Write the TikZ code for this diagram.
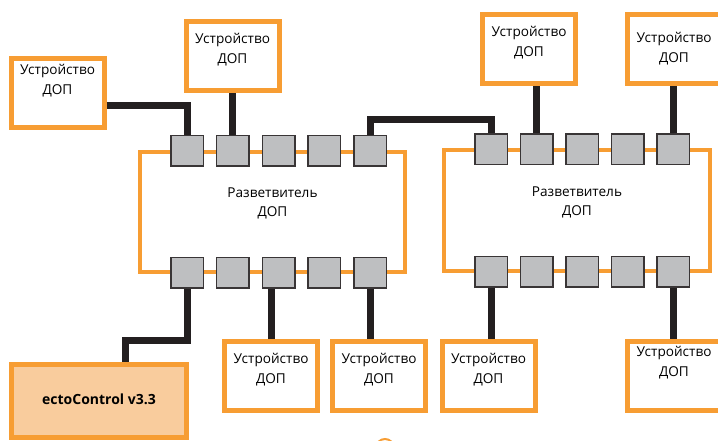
\documentclass[tikz,border=0pt]{standalone}
\usepackage{fontspec}
\setmainfont{Open Sans}
\usetikzlibrary{positioning}

\definecolor{dopOrange}{RGB}{247,157,51}
\definecolor{ectoFill}{RGB}{249,204,157}
\definecolor{portGray}{RGB}{190,191,193}
\definecolor{cableBlack}{RGB}{35,31,32}

\tikzset{
	devbox/.style={draw=dopOrange, line width=5pt, fill=white, minimum width=93pt, minimum height=69pt, inner sep=0pt},
	devtext/.style={anchor=center, yshift=-31pt, align=center, font=\fontsize{13.6}{20}\selectfont},
	splitframe/.style={draw=dopOrange, line width=4.5pt, inner sep=0pt},
	splittext/.style={anchor=center, align=center, font=\fontsize{13.6}{19}\selectfont},
	portbox/.style={draw=cableBlack!90, line width=1.5pt, fill=portGray, minimum width=32.5pt, minimum height=30.5pt, inner sep=0pt},
	cable/.style={draw=cableBlack, line width=7pt}
}

\begin{document}
\begin{tikzpicture}[line join=miter, x=1pt, y=-1pt]
		\clip (0,0) rectangle (718,441);

		% Rahmen der beiden Verteiler
		\node[splitframe, minimum width=265pt, minimum height=120pt,
			label={[splittext, yshift=9pt]center:{Разветвитель\\ДОП}}] (s1) at (272.5,212) {};
		\node[splitframe, minimum width=266pt, minimum height=121pt,
			label={[splittext, yshift=8.5pt]center:{Разветвитель\\ДОП}}] (s2) at (577,210.5) {};

		% Anschluesse oben und unten
		\foreach \i in {1,...,5} {
			\node[portbox] (p1t\i) at ({187+45.75*(\i-1)},151) {};
			\node[portbox] (p1b\i) at ({187+45.75*(\i-1)},272.5) {};
			\node[portbox] (p2t\i) at ({491+45.5*(\i-1)},149.5) {};
			\node[portbox] (p2b\i) at ({491+45.5*(\i-1)},271.5) {};
		}

		% Geraete
		\node[devbox, label={[devtext, yshift=7pt]north:{Устройство\\ДОП}}] (d1) at (57.5,93.5) {};
		\node[devbox, label={[devtext]north:{Устройство\\ДОП}}] (d2) at (232.5,56) {};
		\node[devbox, label={[devtext]north:{Устройство\\ДОП}}] (d3) at (529,49) {};
		\node[devbox, label={[devtext, yshift=-6pt]north:{Устройство\\ДОП}}] (d4) at (674,49) {};
		\node[devbox, label={[devtext]north:{Устройство\\ДОП}}] (d5) at (271,375.5) {};
		\node[devbox, label={[devtext]north:{Устройство\\ДОП}}] (d6) at (379,375.5) {};
		\node[devbox, label={[devtext]north:{Устройство\\ДОП}}] (d7) at (488.5,375.5) {};
		\node[devbox, label={[devtext, yshift=7pt]north:{Устройство\\ДОП}}] (d8) at (674,375.5) {};
		\node[devbox, fill=ectoFill, minimum width=175pt, minimum height=73pt,
			font=\fontsize{14}{16}\selectfont\bfseries] (ecto) at (99,401) {\raisebox{4pt}{ectoControl v3.3}};

		% Kabel
		\draw[cable] ([yshift=-12pt]d1.east) -| (p1t1.north);
		\draw[cable] (p1t2.north) -- (p1t2.north |- d2.south);
		\draw[cable] (p1t5.north) -- ++(0,-15) -| (p2t1.north);
		\draw[cable] (p2t2.north) -- (p2t2.north |- d3.south);
		\draw[cable] (p2t5.north) -- (p2t5.north |- d4.south);
		\draw[cable] (p1b1.south) -- ++(0,52) -| ([xshift=26pt]ecto.north);
		\draw[cable] (d5.north) -- (d5.north |- p1b3.south);
		\draw[cable] (p1b5.south) -- (p1b5.south |- d6.north);
		\draw[cable] (p2b1.south) -- (p2b1.south |- d7.north);
		\draw[cable] (p2b5.south) -- (p2b5.south |- d8.north);

		% angeschnittener Kreis am unteren Rand
		\draw[dopOrange, line width=2pt] (385,448) circle[radius=9pt];
	\end{tikzpicture}
\end{document}
